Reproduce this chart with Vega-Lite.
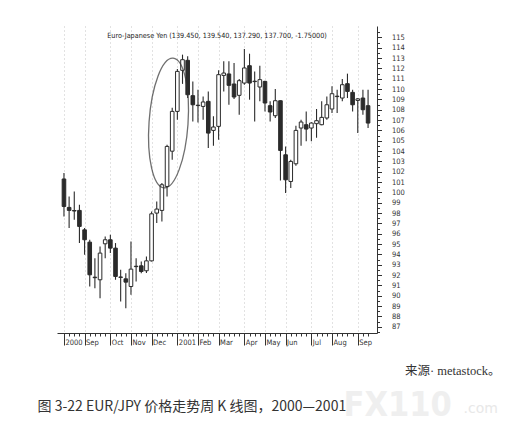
{
  "$schema": "https://vega.github.io/schema/vega-lite/v6.json",
  "width": 320,
  "height": 307,
  "autosize": {"type": "none"},
  "padding": {"left": 57, "top": 26, "right": 131, "bottom": 99},
  "background": "#ffffff",
  "title": {
    "text": "Euro-Japanese Yen (139.450, 139.540, 137.290, 137.700, -1.75000)",
    "font": "Liberation Sans Narrow, DejaVu Sans Condensed, sans-serif",
    "fontSize": 7.2,
    "fontWeight": "normal",
    "color": "#222222",
    "anchor": "middle",
    "frame": "group",
    "offset": -13
  },
  "config": {
    "view": {"stroke": null},
    "axis": {
      "labelFont": "Liberation Sans Narrow, DejaVu Sans Condensed, sans-serif",
      "labelColor": "#333333",
      "domainColor": "#333333",
      "tickColor": "#333333",
      "labelOverlap": false,
      "labelFlush": false,
      "labelBound": false
    }
  },
  "datasets": {
    "candles": [
      {"date":"2000-08-04","open":101.3,"high":101.87,"low":97.67,"close":98.64},
      {"date":"2000-08-11","open":98.55,"high":99.61,"low":96.55,"close":98.26},
      {"date":"2000-08-18","open":98.25,"high":100.09,"low":97.35,"close":98.2},
      {"date":"2000-08-25","open":98.26,"high":98.8,"low":95.1,"close":96.71},
      {"date":"2000-09-01","open":96.38,"high":96.55,"low":93.96,"close":95.42},
      {"date":"2000-09-08","open":95.19,"high":95.42,"low":90.9,"close":92.03},
      {"date":"2000-09-15","open":91.8,"high":93.64,"low":90.74,"close":91.75},
      {"date":"2000-09-22","open":91.55,"high":94.77,"low":89.77,"close":94.13},
      {"date":"2000-09-29","open":95.03,"high":95.74,"low":93.64,"close":95.42},
      {"date":"2000-10-06","open":95.42,"high":95.9,"low":94.13,"close":94.61},
      {"date":"2000-10-13","open":94.61,"high":95.1,"low":91.55,"close":91.87},
      {"date":"2000-10-20","open":91.82,"high":92.51,"low":89.44,"close":91.78},
      {"date":"2000-10-27","open":91.64,"high":92.19,"low":88.8,"close":91.32},
      {"date":"2000-11-03","open":90.9,"high":95.26,"low":90.09,"close":92.58},
      {"date":"2000-11-10","open":92.86,"high":93.64,"low":91.38,"close":92.82},
      {"date":"2000-11-17","open":92.9,"high":93.32,"low":92.19,"close":92.35},
      {"date":"2000-11-24","open":92.42,"high":93.8,"low":92.2,"close":93.38},
      {"date":"2000-12-01","open":93.38,"high":98.16,"low":93.32,"close":97.93},
      {"date":"2000-12-08","open":98.0,"high":99.13,"low":97.03,"close":98.39},
      {"date":"2000-12-15","open":98.26,"high":100.9,"low":97.19,"close":100.74},
      {"date":"2000-12-22","open":100.58,"high":104.61,"low":99.61,"close":104.45},
      {"date":"2000-12-29","open":103.99,"high":108.2,"low":103.16,"close":107.84},
      {"date":"2001-01-05","open":107.84,"high":111.94,"low":107.03,"close":111.71},
      {"date":"2001-01-12","open":111.81,"high":113.33,"low":110.5,"close":112.84},
      {"date":"2001-01-19","open":112.78,"high":113.17,"low":109.13,"close":109.45},
      {"date":"2001-01-26","open":109.36,"high":110.74,"low":106.87,"close":108.48},
      {"date":"2001-02-02","open":108.44,"high":109.94,"low":106.77,"close":108.4},
      {"date":"2001-02-09","open":108.32,"high":109.29,"low":107.03,"close":108.75},
      {"date":"2001-02-16","open":108.81,"high":109.77,"low":104.29,"close":105.74},
      {"date":"2001-02-23","open":106.0,"high":107.36,"low":104.52,"close":106.33},
      {"date":"2001-03-02","open":106.39,"high":111.81,"low":105.1,"close":111.39},
      {"date":"2001-03-09","open":111.32,"high":112.68,"low":109.77,"close":111.55},
      {"date":"2001-03-16","open":111.46,"high":112.68,"low":108.48,"close":110.36},
      {"date":"2001-03-23","open":110.49,"high":112.52,"low":109.04,"close":109.23},
      {"date":"2001-03-30","open":109.39,"high":110.97,"low":107.52,"close":110.81},
      {"date":"2001-04-06","open":110.58,"high":113.87,"low":110.42,"close":112.04},
      {"date":"2001-04-13","open":112.26,"high":113.42,"low":108.97,"close":110.58},
      {"date":"2001-04-20","open":110.76,"high":111.71,"low":106.87,"close":110.72},
      {"date":"2001-04-27","open":110.2,"high":112.26,"low":108.81,"close":110.91},
      {"date":"2001-05-04","open":110.74,"high":110.8,"low":107.84,"close":108.65},
      {"date":"2001-05-11","open":108.39,"high":108.81,"low":106.87,"close":107.78},
      {"date":"2001-05-18","open":107.42,"high":110.0,"low":107.2,"close":108.87},
      {"date":"2001-05-25","open":108.87,"high":108.9,"low":101.16,"close":104.06},
      {"date":"2001-06-01","open":103.64,"high":104.45,"low":99.94,"close":101.22},
      {"date":"2001-06-08","open":101.06,"high":103.16,"low":100.42,"close":103.0},
      {"date":"2001-06-15","open":102.77,"high":106.45,"low":102.58,"close":106.0},
      {"date":"2001-06-22","open":106.23,"high":107.03,"low":104.52,"close":106.81},
      {"date":"2001-06-29","open":106.55,"high":107.84,"low":104.94,"close":106.13},
      {"date":"2001-07-06","open":106.23,"high":106.8,"low":104.94,"close":106.71},
      {"date":"2001-07-13","open":106.65,"high":108.07,"low":105.29,"close":106.94},
      {"date":"2001-07-20","open":106.55,"high":108.81,"low":106.5,"close":107.26},
      {"date":"2001-07-27","open":107.2,"high":109.29,"low":107.03,"close":108.48},
      {"date":"2001-08-03","open":108.07,"high":110.26,"low":107.68,"close":109.55},
      {"date":"2001-08-10","open":109.31,"high":109.94,"low":107.68,"close":109.27},
      {"date":"2001-08-17","open":109.13,"high":110.97,"low":108.81,"close":110.42},
      {"date":"2001-08-24","open":110.52,"high":111.49,"low":109.13,"close":109.77},
      {"date":"2001-08-31","open":109.68,"high":109.94,"low":107.84,"close":108.48},
      {"date":"2001-09-07","open":108.9,"high":109.13,"low":105.74,"close":109.05},
      {"date":"2001-09-14","open":109.13,"high":109.94,"low":107.52,"close":108.0},
      {"date":"2001-09-21","open":108.39,"high":109.94,"low":106.23,"close":106.71}
    ],
    "note": [
      {"date":"2000-12-24","price":106.71}
    ]
  },
  "resolve": {"axis": {"x": "independent", "y": "independent"}},
  "layer": [
    {
      "data": {"name": "candles"},
      "mark": {"type": "rule", "color": "#2b2b2b", "strokeWidth": 1.1},
      "encoding": {
        "x": {
          "field": "date", "type": "temporal",
          "scale": {"type": "utc", "domain": [{"year":2000,"month":8,"date":1,"hours":8,"utc":true},{"year":2001,"month":9,"date":26,"hours":8,"utc":true}], "nice": false},
          "axis": {
            "orient": "bottom",
            "values": [
              {"year":2000,"month":8,"date":4,"utc":true},
              {"year":2000,"month":9,"date":1,"utc":true},
              {"year":2000,"month":10,"date":6,"utc":true},
              {"year":2000,"month":11,"date":3,"utc":true},
              {"year":2000,"month":12,"date":1,"utc":true},
              {"year":2001,"month":1,"date":5,"utc":true},
              {"year":2001,"month":2,"date":2,"utc":true},
              {"year":2001,"month":3,"date":2,"utc":true},
              {"year":2001,"month":4,"date":6,"utc":true},
              {"year":2001,"month":5,"date":4,"utc":true},
              {"year":2001,"month":6,"date":1,"utc":true},
              {"year":2001,"month":7,"date":6,"utc":true},
              {"year":2001,"month":8,"date":3,"utc":true},
              {"year":2001,"month":9,"date":7,"utc":true}
            ],
            "labelExpr": "(utcmonth(datum.value) == 0 || (utcyear(datum.value) == 2000 && utcmonth(datum.value) == 7)) ? utcFormat(datum.value, '%Y') : utcFormat(datum.value, '%b')",
            "tickSize": 12,
            "tickWidth": 1,
            "labelAlign": "left",
            "labelBaseline": "middle",
            "labelPadding": -3,
            "labelOffset": 1,
            "labelFontSize": 7.5,
            "grid": true,
            "gridDash": [1, 3],
            "gridColor": "#c4c4c4",
            "gridWidth": 1,
            "domain": true,
            "title": "图 3-22   EUR/JPY 价格走势周 K 线图，2000—2001",
            "titleFont": "Noto Sans CJK SC",
            "titleFontSize": 14,
            "titleFontWeight": "normal",
            "titleColor": "#333333",
            "titleAlign": "left",
            "titleBaseline": "middle",
            "titleX": -20,
            "titleY": 73
          }
        },
        "y": {
          "field": "low", "type": "quantitative",
          "scale": {"domain": [86.4, 116.1], "zero": false, "nice": false},
          "axis": {
            "orient": "right",
            "values": [87,88,89,90,91,92,93,94,95,96,97,98,99,100,101,102,103,104,105,106,107,108,109,110,111,112,113,114,115],
            "tickSize": 4.5,
            "labelPadding": 10,
            "labelAlign": "left",
            "labelFontSize": 7.5,
            "grid": false,
            "domain": true,
            "title": "来源· metastock。",
            "titleFont": "Liberation Serif, Noto Sans CJK SC",
            "titleFontSize": 12.5,
            "titleFontWeight": "normal",
            "titleColor": "#333333",
            "titleAngle": 0,
            "titleAlign": "right",
            "titleBaseline": "middle",
            "titleX": 123,
            "titleY": 344
          }
        },
        "y2": {"field": "high"}
      }
    },
    {
      "data": {"name": "candles"},
      "mark": {"type": "bar", "size": 3.6, "stroke": "#2b2b2b", "strokeWidth": 1},
      "encoding": {
        "x": {
          "field": "date", "type": "temporal",
          "scale": {"type": "utc", "domain": [{"year":2000,"month":8,"date":1,"hours":8,"utc":true},{"year":2001,"month":9,"date":26,"hours":8,"utc":true}], "nice": false},
          "axis": {
            "orient": "bottom",
            "values": {"expr": "sequence(utc(2000,7,4), utc(2001,8,25), 604800000)"},
            "labels": false,
            "tickSize": 3,
            "grid": false,
            "domain": false,
            "title": "FX110",
            "titleFont": "Liberation Sans Narrow, DejaVu Sans Condensed, sans-serif",
            "titleFontSize": 34,
            "titleFontWeight": "bold",
            "titleColor": "#efefef",
            "titleAlign": "left",
            "titleBaseline": "middle",
            "titleX": 286,
            "titleY": 72
          }
        },
        "y": {
          "field": "open", "type": "quantitative",
          "scale": {"domain": [86.4, 116.1], "zero": false, "nice": false},
          "axis": {
            "orient": "right",
            "values": [86.5,87.5,88.5,89.5,90.5,91.5,92.5,93.5,94.5,95.5,96.5,97.5,98.5,99.5,100.5,101.5,102.5,103.5,104.5,105.5,106.5,107.5,108.5,109.5,110.5,111.5,112.5,113.5,114.5,115.5],
            "labels": false,
            "tickSize": 2.5,
            "grid": false,
            "domain": false,
            "title": ".com",
            "titleFont": "DejaVu Sans",
            "titleFontSize": 14,
            "titleFontWeight": "normal",
            "titleColor": "#e8e8e8",
            "titleAngle": 0,
            "titleAlign": "left",
            "titleBaseline": "middle",
            "titleX": 86,
            "titleY": 382
          }
        },
        "y2": {"field": "close"},
        "fill": {"condition": {"test": "datum.open > datum.close", "value": "#2b2b2b"}, "value": "#ffffff"}
      }
    },
    {
      "data": {"name": "note"},
      "mark": {
        "type": "point",
        "shape": "M0,-1C0.1657,-1,0.3,-0.5523,0.3,0C0.3,0.5523,0.1657,1,0,1C-0.1657,1,-0.3,0.5523,-0.3,0C-0.3,-0.5523,-0.1657,-1,0,-1Z",
        "size": 16900,
        "filled": false,
        "stroke": "#333333",
        "strokeWidth": 1.3,
        "angle": 4
      },
      "encoding": {
        "x": {
          "field": "date", "type": "temporal",
          "scale": {"type": "utc", "domain": [{"year":2000,"month":8,"date":1,"hours":8,"utc":true},{"year":2001,"month":9,"date":26,"hours":8,"utc":true}], "nice": false},
          "axis": null
        },
        "y": {
          "field": "price", "type": "quantitative",
          "scale": {"domain": [86.4, 116.1], "zero": false, "nice": false},
          "axis": null
        }
      }
    }
  ]
}
